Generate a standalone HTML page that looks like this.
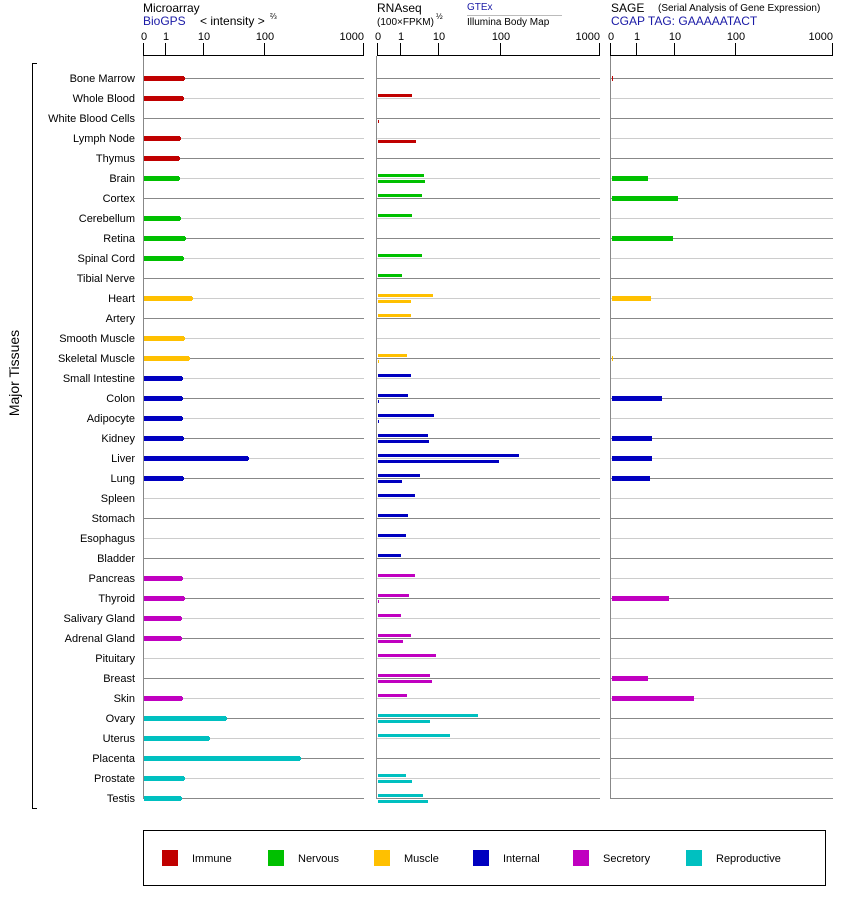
<!DOCTYPE html>
<html><head><meta charset="utf-8"><style>
html,body{margin:0;padding:0;background:#fff}
svg{display:block;font-family:"Liberation Sans",Arial,sans-serif}
</style></head><body>
<svg id="s" width="842" height="900" xmlns="http://www.w3.org/2000/svg">
<text x="143" y="12" font-size="12">Microarray</text>
<text x="143" y="25" font-size="12" fill="#1a1aa6">BioGPS</text>
<text x="200" y="25" font-size="12">&lt; intensity &gt;</text>
<text x="270" y="19" font-size="8">⅔</text>
<text x="377" y="12" font-size="12">RNAseq</text>
<text x="377" y="25" font-size="10">(100×FPKM)</text>
<text x="436" y="19" font-size="8">½</text>
<text x="467" y="10" font-size="10" fill="#1a1aa6">GTEx</text>
<line x1="467" y1="15.5" x2="562" y2="15.5" stroke="#bbb"/>
<text x="467" y="25" font-size="10">Illumina Body Map</text>
<text x="611" y="12" font-size="12">SAGE</text>
<text x="658" y="11" font-size="10">(Serial Analysis of Gene Expression)</text>
<text x="611" y="25" font-size="12" fill="#1a1aa6">CGAP TAG: GAAAAATACT</text>
<line x1="32.5" y1="63" x2="32.5" y2="809" stroke="#000"/>
<line x1="32" y1="63.5" x2="37" y2="63.5" stroke="#000"/>
<line x1="32" y1="808.5" x2="37" y2="808.5" stroke="#000"/>
<text transform="translate(19,373) rotate(-90)" font-size="14" text-anchor="middle">Major Tissues</text>
<rect x="143.5" y="830.5" width="682" height="55" fill="none" stroke="#000"/>
<g id="g"></g>
</svg>
<script>
const C={r:"#c00000",g:"#00c000",y:"#ffc000",b:"#0000c0",m:"#c000c0",c:"#00c0c0"};
const rows=[
["Bone Marrow","r",184,null,null,613],["Whole Blood","r",183,412,null,0],["White Blood Cells","r",0,null,379,0],
["Lymph Node","r",180,null,416,612],["Thymus","r",179,null,null,0],["Brain","g",179,424,425,648],
["Cortex","g",0,422,null,678],["Cerebellum","g",180,412,null,612],["Retina","g",185,null,null,673],
["Spinal Cord","g",183,422,null,612],["Tibial Nerve","g",0,402,null,0],["Heart","y",192,433,411,651],
["Artery","y",0,411,null,0],["Smooth Muscle","y",184,null,null,0],["Skeletal Muscle","y",189,407,379,613],
["Small Intestine","b",182,411,null,0],["Colon","b",182,408,379,662],["Adipocyte","b",182,434,379,0],
["Kidney","b",183,428,429,652],["Liver","b",248,519,499,652],["Lung","b",183,420,402,650],
["Spleen","b",0,415,null,0],["Stomach","b",0,408,null,0],["Esophagus","b",0,406,null,0],["Bladder","b",0,401,null,0],
["Pancreas","m",182,415,null,612],["Thyroid","m",184,409,379,669],["Salivary Gland","m",181,401,null,0],
["Adrenal Gland","m",181,411,403,0],["Pituitary","m",0,436,null,0],["Breast","m",0,430,432,648],
["Skin","m",182,407,null,694],["Ovary","c",226,478,430,0],["Uterus","c",209,450,null,0],
["Placenta","c",300,null,null,612],["Prostate","c",184,406,412,612],["Testis","c",181,423,428,0]];
let h="";
const axes=[[144,364,[[144,"0"],[166,"1"],[204,"10"],[265,"100"],[364,"1000"]]],
[377,600,[[378,"0"],[401,"1"],[439,"10"],[501,"100"],[600,"1000"]]],
[611,833,[[611,"0"],[637,"1"],[675,"10"],[736,"100"],[833,"1000"]]]];
rows.forEach((r,i)=>{const y=78+20*i;const col=i%2==0?"#888":"#ccc";
axes.forEach(a=>{h+=`<line x1="${a[0]}" y1="${y+.5}" x2="${a[1]}" y2="${y+.5}" stroke="${col}"/>`;});
h+=`<text x="135" y="${y+4}" font-size="11" text-anchor="end">${r[0]}</text>`;});
axes.forEach(a=>{h+=`<line x1="${a[0]-.5}" y1="56" x2="${a[0]-.5}" y2="799" stroke="#888"/>`;
h+=`<line x1="${a[0]}" y1="55.5" x2="${a[1]}" y2="55.5" stroke="#000"/>`;
a[2].forEach((t,k)=>{h+=`<line x1="${t[0]-.5}" y1="43" x2="${t[0]-.5}" y2="56" stroke="#000"/>`;
const anc=k==4?"end":"middle";const tx=k==4?t[0]:t[0];
h+=`<text x="${tx}" y="40" font-size="11" text-anchor="${anc}">${t[1]}</text>`;});});
rows.forEach((r,i)=>{const y=78+20*i;const c=C[r[1]];
if(r[2])h+=`<rect x="144" y="${y-2}" width="${r[2]-144}" height="5" fill="${c}"/><rect x="${r[2]-1}" y="${y-1}" width="2" height="3" fill="${c}"/>`;
if(r[3])h+=`<rect x="378" y="${y-4}" width="${r[3]-378}" height="3" fill="${c}"/>`;
if(r[4])h+=`<rect x="378" y="${y+2}" width="${r[4]-378}" height="3" fill="${c}"/>`;
if(r[5])h+=`<rect x="612" y="${y-2}" width="${r[5]-612}" height="5" fill="${c}"/>`;});
const L=[["r","Immune",162],["g","Nervous",268],["y","Muscle",374],["b","Internal",473],["m","Secretory",573],["c","Reproductive",686]];
L.forEach(l=>{h+=`<rect x="${l[2]}" y="850" width="16" height="16" fill="${C[l[0]]}"/><text x="${l[2]+30}" y="862" font-size="11">${l[1]}</text>`;});
document.getElementById("g").innerHTML=h;
</script>
</body></html>
